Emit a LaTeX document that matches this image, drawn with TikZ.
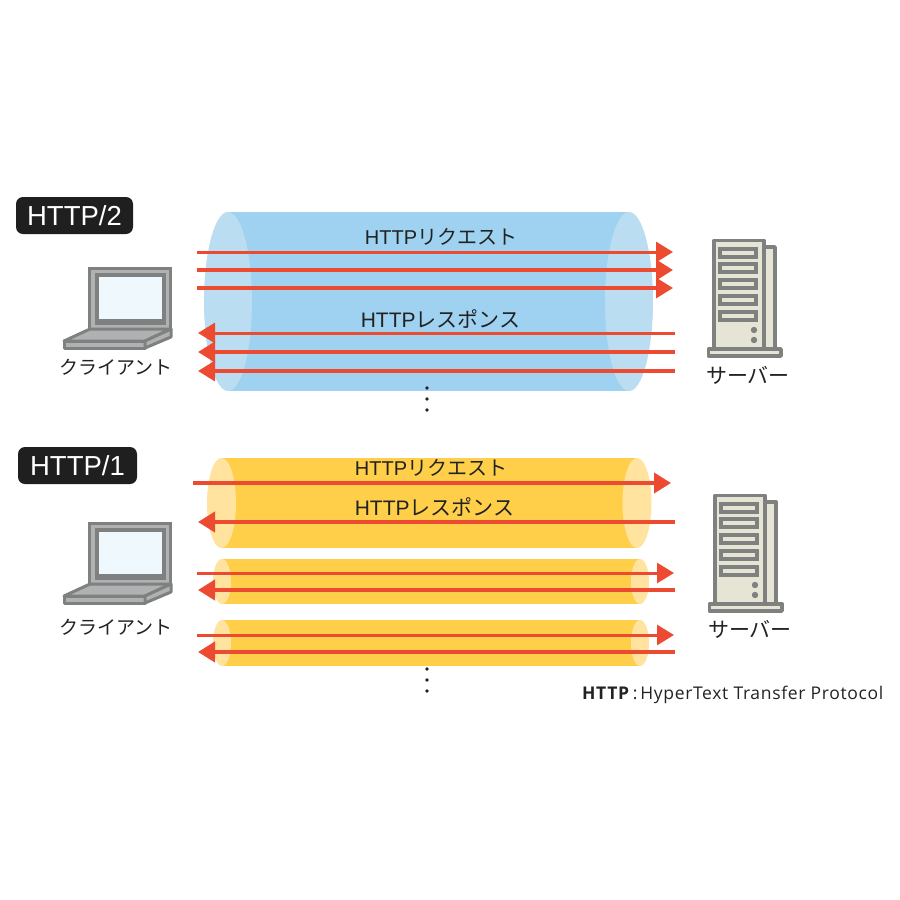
\documentclass[tikz,border=0pt]{standalone}
\usepackage{fontspec}
\setmainfont{Noto Sans CJK JP}
\newfontfamily\latinfont{Liberation Sans}
\newfontfamily\notefont[LetterSpace=3.8]{Open Sans}
\usetikzlibrary{arrows.meta}
\definecolor{flowred}{HTML}{EC4B31}
\definecolor{bluebody}{HTML}{9FD2F0}
\definecolor{blueend}{HTML}{BBDDF1}
\definecolor{yellowbody}{HTML}{FFCF4A}
\definecolor{yellowend}{HTML}{FFE39E}
\definecolor{devgray}{HTML}{7F8080}
\definecolor{lidlight}{HTML}{B0B1B3}
\definecolor{screenblue}{HTML}{EFF8FD}
\definecolor{srvbody}{HTML}{E6E5D5}
\definecolor{textk}{HTML}{222222}
\tikzset{
  flowline/.style={draw=flowred,line width=#1},
  flowline/.default=3.2pt,
  tipr/.style={-{Triangle[length=17pt,width=20pt,fill=flowred]}},
  tipl/.style={{Triangle[length=17pt,width=20pt,fill=flowred]}-},
  lbl/.style={inner sep=0pt,text=textk,font=\fontsize{20}{20}\selectfont},
  reslbl/.style={inner sep=0pt,text=textk,font=\fontsize{21}{21}\selectfont},
  devlbl/.style={inner sep=0pt,text=textk,font=\fontsize{19}{19}\selectfont},
  srvlbl/.style={inner sep=0pt,text=textk,font=\fontsize{21}{21}\selectfont},
  badge/.style={fill=black!88,rounded corners=7pt,text=white,inner sep=0pt,font=\latinfont\fontsize{27.5}{27.5}\selectfont},
  dotmark/.style={circle,fill=textk,inner sep=0pt,minimum size=3.6pt},
  devline/.style={draw=devgray,line width=3pt,line join=round}
}
% cylinder: xl xr ytop ybot rx body end
\newcommand{\pipeshape}[7]{
  \fill[#6] (#1,#3) rectangle (#2,#4);
  \fill[#7] (#1,{(#3+#4)/2}) ellipse[x radius=#5,y radius={(#4-#3)/2}];
  \fill[#7] (#2,{(#3+#4)/2}) ellipse[x radius=#5,y radius={(#4-#3)/2}];
}
\newcommand{\laptopshape}[1]{
  \begin{scope}[shift={(0,#1)}]
    \fill[devgray] (88,267) rectangle (172,330);
    \fill[lidlight] (91,270) rectangle (169,328);
    \fill[devgray] (95,273) rectangle (166,325);
    \fill[screenblue] (99,277) rectangle (162,319);
    \path[devline,fill=lidlight] (90,329) -- (171,329) -- (145,341) -- (64,341) -- cycle;
    \path[devline,fill=lidlight] (64,341) rectangle (145,348);
    \path[devline,fill=lidlight] (145,341) -- (171,329) -- (171,337) -- (145,348) -- cycle;
  \end{scope}
}
\newcommand{\servershape}[2]{
  \begin{scope}[shift={(#1,#2)}]
    \path[devline,line width=3.4pt,fill=srvbody] (764,247) rectangle (775,350);
    \path[devline,line width=3.8pt,fill=srvbody] (714,240.5) rectangle (764,350);
    \foreach \yy in {249,264,280,296,312}{
      \path[draw=devgray,line width=4pt,fill=srvbody] (720,\yy) rectangle (756,\yy+7.5);
    }
    \fill[devgray] (754,330) circle[radius=3.2];
    \fill[devgray] (754,340) circle[radius=3.2];
    \path[devline,line width=3.4pt,fill=srvbody] (708.5,349) rectangle (781,356);
  \end{scope}
}
\begin{document}
\begin{tikzpicture}[x=1pt,y=-1pt]
\useasboundingbox[fill=white] (0,0) rectangle (900,900);
% pipes
\pipeshape{228}{629}{212}{391}{24}{bluebody}{blueend}
\pipeshape{221.5}{637}{458}{548}{14.5}{yellowbody}{yellowend}
\pipeshape{222}{640}{559}{604}{9}{yellowbody}{yellowend}
\pipeshape{222}{640}{620}{666}{9}{yellowbody}{yellowend}
% devices
\laptopshape{0}
\laptopshape{255}
\servershape{0}{0}
\servershape{1}{255}
% labels
\node[badge,minimum width=117pt,minimum height=37pt] (b2) at (74.5,215.5) {HTTP/2};
\node[badge,minimum width=119pt,minimum height=37pt] (b1) at (77.5,465.5) {HTTP/1};
\node[lbl] (req2) at (441,237) {\latinfont HTTP\rmfamily リクエスト};
\node[reslbl] (res2) at (440.5,319) {\latinfont HTTP\rmfamily レスポンス};
\node[lbl] (req1) at (431,468) {\latinfont HTTP\rmfamily リクエスト};
\node[reslbl] (res1) at (434.5,507) {\latinfont HTTP\rmfamily レスポンス};
\node[devlbl] (c2) at (116,367) {クライアント};
\node[devlbl] (c1) at (116,627) {クライアント};
\node[srvlbl] (s2) at (748,375) {サーバー};
\node[srvlbl] (s1) at (750,629) {サーバー};
\node[inner sep=0pt,anchor=west,text=textk,font=\notefont\fontsize{17.5}{18}\selectfont] (fn) at (582,694.5) {\textbf{HTTP}\,:\,HyperText Transfer Protocol};
% connector ends
\foreach \nm/\xa/\xb/\yy in {a/197/673/252,b/197/673/270,c/197/673/288,d/198/675/333,e/198/675/352,f/198/675/371,g/193/671/483,h/198/675/522,i/197/674/573,j/198/675/590,k/197/674/635,l/198/675/652}{
  \coordinate (\nm L) at (\xa,\yy);
  \coordinate (\nm R) at (\xb,\yy);
}
\draw[flowline=3pt,tipr] (aL) -- (aR);
\draw[flowline=4pt,tipr] (bL) -- (bR);
\draw[flowline=3.4pt,tipr] (cL) -- (cR);
\draw[flowline=3pt,tipl] (dL) -- (dR);
\draw[flowline=4pt,tipl] (eL) -- (eR);
\draw[flowline=3.4pt,tipl] (fL) -- (fR);
\draw[flowline=4pt,tipr] (gL) -- (gR);
\draw[flowline=4pt,tipl] (hL) -- (hR);
\draw[flowline=3pt,tipr] (iL) -- (iR);
\draw[flowline=4pt,tipl] (jL) -- (jR);
\draw[flowline=3pt,tipr] (kL) -- (kR);
\draw[flowline=4pt,tipl] (lL) -- (lR);
% ellipsis
\foreach \nm/\yy in {p/388,q/399,r/410,s/669,t/680,u/691}{
  \node[dotmark] (\nm) at (427,\yy) {};
}
\end{tikzpicture}
\end{document}
